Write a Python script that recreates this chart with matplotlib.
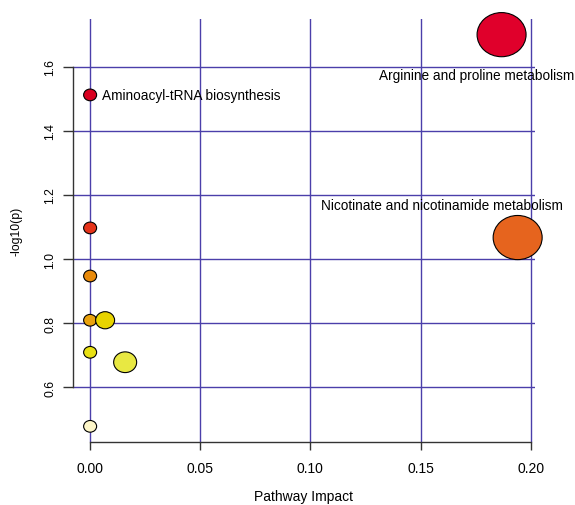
import numpy as np
import matplotlib
matplotlib.use("Agg")
import matplotlib.pyplot as plt
from matplotlib.path import Path
from matplotlib.transforms import Affine2D

plt.rcParams['font.family'] = ['Liberation Sans', 'DejaVu Sans']

# pathway impact vs -log10(p)
impact = [0.1868, 0.1941, 0.0, 0.0, 0.0, 0.0, 0.0068, 0.0, 0.0159, 0.0]
logp = [1.700, 1.067, 1.512, 1.097, 0.947, 0.809, 0.809, 0.709, 0.678, 0.478]
bubble = [49, 49, 13, 13, 13, 13, 19, 13, 23, 13]   # relative bubble diameter
colors = ['#E0002B', '#E6641E', '#D8001F', '#E5331A', '#E88A0A',
          '#EAA20E', '#E8D400', '#E8E014', '#E8E842', '#FDF6C8']
names = ['Arginine and proline metabolism',
         'Nicotinate and nicotinamide metabolism',
         'Aminoacyl-tRNA biosynthesis']
label_off = [(-25, -40, 'center'), (-76, 33, 'center'), (12, 0, 'left')]

xticks = [0.00, 0.05, 0.10, 0.15, 0.20]
yticks = [0.6, 0.8, 1.0, 1.2, 1.4, 1.6]

grid_col = '#4B3FAA'

fig = plt.figure(figsize=(5.75, 5.06), dpi=100)
ax = fig.add_axes([0.127, 0.1245, 0.803, 0.836])

# picture is a bit stretched sideways, so circles come out as ellipses
ell = Path.unit_circle().transformed(Affine2D().scale(1.11, 1.0))
sizes = [(d * 0.72) ** 2 for d in bubble]

ax.scatter(impact, logp, s=sizes, c=colors, marker=ell,
           edgecolors='black', linewidths=0.8, zorder=3, clip_on=False)

for i, nm in enumerate(names):
    dx, dy, ha = label_off[i]
    ax.annotate(nm, (impact[i], logp[i]), xytext=(dx, dy),
                textcoords='offset pixels', ha=ha, va='center',
                fontsize=9.8, color='black', zorder=4)

ax.margins(x=0.04, y=0.04)
ax.set_xticks(xticks)
ax.set_xticklabels(['%.2f' % t for t in xticks])
ax.set_yticks(yticks)
ax.set_yticklabels(['%.1f' % t for t in yticks], rotation=90, va='center')

ax.grid(True, color=grid_col, linewidth=1.0, zorder=1)
ax.set_axisbelow(True)

for s in ['top', 'right']:
    ax.spines[s].set_visible(False)
ax.spines['left'].set_bounds(0.6, 1.6)
ax.spines['bottom'].set_bounds(0.0, 0.2)
for s in ['left', 'bottom']:
    ax.spines[s].set_color('#333333')
    ax.spines[s].set_linewidth(1.0)

ax.tick_params(axis='x', length=6, width=1.0, color='#333333',
               labelsize=10, pad=8)
ax.tick_params(axis='y', length=7, width=1.0, color='#333333',
               labelsize=8.8, pad=5)

ax.set_xlabel('Pathway Impact', fontsize=10, labelpad=10)
ax.set_ylabel('-log10(p)', fontsize=8.8, labelpad=16)

fig.savefig('out.png', dpi=100)
